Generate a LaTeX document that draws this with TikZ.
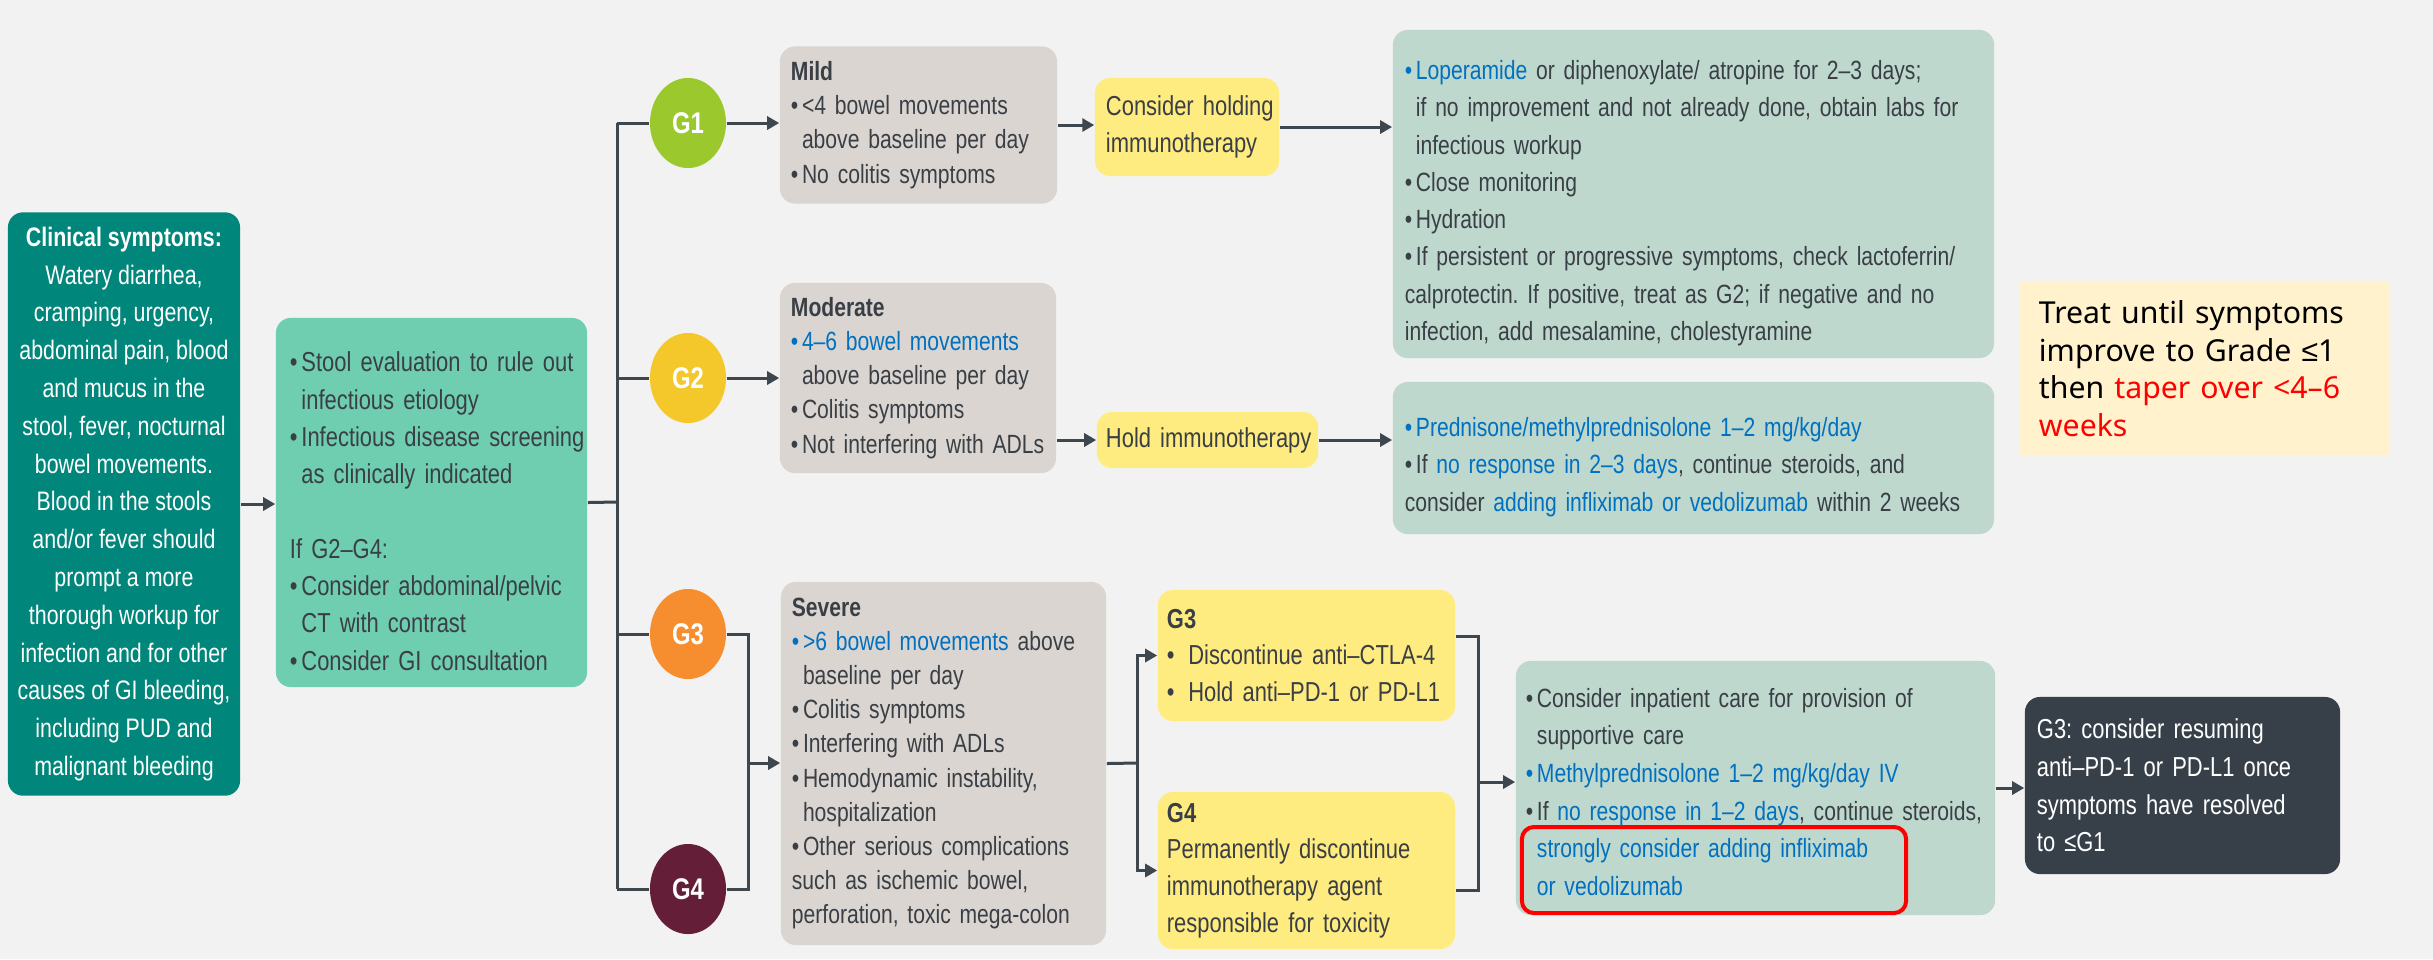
\documentclass[tikz,border=0pt]{standalone}
\usepackage{fontspec}
\setmainfont{Liberation Sans}[FakeStretch=0.8]
\newfontfamily\notefont{Noto Sans}
\newfontfamily\lefont{Liberation Sans}
\usetikzlibrary{shapes.geometric,arrows.meta}

\definecolor{fond}{RGB}{242,242,242}
\definecolor{teal1}{RGB}{0,134,122}
\definecolor{vert1}{RGB}{111,206,176}
\definecolor{gris1}{RGB}{218,213,208}
\definecolor{jaune1}{RGB}{255,236,128}
\definecolor{vert2}{RGB}{190,216,205}
\definecolor{creme}{RGB}{255,242,204}
\definecolor{sombre}{RGB}{55,64,73}
\definecolor{texte}{RGB}{58,63,70}
\definecolor{bleu}{RGB}{0,112,192}
\definecolor{trait}{RGB}{62,70,78}
\definecolor{gA}{RGB}{155,201,45}
\definecolor{gB}{RGB}{244,199,43}
\definecolor{gC}{RGB}{246,142,47}
\definecolor{gD}{RGB}{101,30,56}

% bullet with hanging indent, one line per \mbox
\newcommand{\puce}[2][texte]{\par\hangindent=0.42em\hangafter=1\noindent\makebox[0.42em][l]{\textcolor{#1}{\textbullet}}#2}
\newcommand{\hl}[1]{\textcolor{bleu}{#1}}

\tikzset{
  base/.style={rounded corners=0.15cm,inner ysep=0pt,inner xsep=0.11cm,
    align=left,text=texte,font=\fontsize{7.8}{10.6}\selectfont\frenchspacing},
  grisbox/.style={base,fill=gris1,font=\fontsize{7.5}{9.7}\selectfont\frenchspacing},
  jaunebox/.style={base,fill=jaune1,font=\fontsize{7.8}{10.4}\selectfont\frenchspacing},
  vertbox/.style={base,fill=vert2,font=\fontsize{7.5}{10.6}\selectfont\frenchspacing},
  gcirc/.style={ellipse,minimum width=0.76cm,minimum height=0.9cm,inner sep=0pt,
    text=white,font=\fontsize{8.5}{10}\selectfont\bfseries},
  ln/.style={draw=trait,line width=0.03cm},
  arr/.style={ln,-{Triangle[length=0.12cm,width=0.13cm]}}
}

\begin{document}
\begin{tikzpicture}[x=0.01cm,y=-0.01cm]

\useasboundingbox (0,0) rectangle (2433,959);
\fill[fond] (0,0) rectangle (2433,959);

% Symptoms
\node[base,fill=teal1,text=white,align=center,minimum width=2.32cm,minimum height=5.83cm,inner xsep=0.03cm,font=\fontsize{7.6}{10.75}\selectfont]
(clin)
at (124,504)
{\textbf{Clinical symptoms:}\\ Watery diarrhea,\\ cramping, urgency,\\ abdominal pain, blood\\ and mucus in the\\ stool, fever, nocturnal\\ bowel movements.\\ Blood in the stools\\ and/or fever should\\ prompt a more\\ thorough workup for\\ infection and for other\\ causes of GI bleeding,\\ including PUD and\\ malignant bleeding};

\node[base,fill=vert1,text width=2.83cm,inner xsep=0.14cm,minimum height=3.69cm]
(stool)
at (431.5,502.5)
{\puce{\mbox{Stool evaluation to rule out}\newline\mbox{infectious etiology}}
\puce{\mbox{Infectious disease screening}\newline\mbox{as clinically indicated}}
\par\vspace{10.6pt}\noindent If G2–G4:
\puce{\mbox{Consider abdominal/pelvic}\newline\mbox{CT with contrast}}
\puce{\mbox{Consider GI consultation}}};

% Grades
\node[gcirc,fill=gA]
(g1)
at (688,123)
{G1};

\node[gcirc,fill=gB]
(g2)
at (688,378)
{G2};

\node[gcirc,fill=gC]
(g3)
at (688,634)
{G3};

\node[gcirc,fill=gD]
(g4)
at (688,889)
{G4};

% Severity
\node[grisbox,text width=2.55cm,minimum height=1.57cm]
(mild)
at (918.5,125)
{\textbf{Mild}
\puce{\mbox{<4 bowel movements}\newline\mbox{above baseline per day}}
\puce{\mbox{No colitis symptoms}}};

\node[grisbox,text width=2.54cm,minimum height=1.9cm]
(mod)
at (918,378)
{\textbf{Moderate}
\puce[bleu]{\mbox{\hl{4–6 bowel movements}}\newline\mbox{above baseline per day}}
\puce{\mbox{Colitis symptoms}}
\puce{\mbox{Not interfering with ADLs}}};

\node[grisbox,text width=3.03cm,minimum height=3.63cm]
(sev)
at (943.5,763.5)
{\textbf{Severe}
\puce[bleu]{\mbox{\hl{>6 bowel movements} above}\newline\mbox{baseline per day}}
\puce{\mbox{Colitis symptoms}}
\puce{\mbox{Interfering with ADLs}}
\puce{\mbox{Hemodynamic instability,}\newline\mbox{hospitalization}}
\puce{\mbox{Other serious complications}\newline\mbox{such as ischemic bowel,}\newline\mbox{perforation, toxic mega-colon}}};

% Immunotherapy
\node[jaunebox,text width=1.62cm,minimum height=0.98cm]
(holdc)
at (1187,127)
{\mbox{Consider holding}\newline\mbox{immunotherapy}};

\node[jaunebox,text width=2.03cm,inner xsep=0.09cm,minimum height=0.56cm]
(hold)
at (1207.5,440)
{\mbox{Hold immunotherapy}};

\node[jaunebox,text width=2.79cm,inner xsep=0.09cm,minimum height=1.31cm]
(g3box)
at (1306.5,655.5)
{\textbf{G3}\par\noindent\textbullet\enspace Discontinue anti–CTLA-4\par\noindent\textbullet\enspace Hold anti–PD-1 or PD-L1};

\node[jaunebox,text width=2.79cm,inner xsep=0.09cm,minimum height=1.57cm]
(g4box)
at (1306.5,870.5)
{\textbf{G4}\par\noindent\mbox{Permanently discontinue}\newline\mbox{immunotherapy agent}\newline\mbox{responsible for toxicity}};

% Treatment
\node[vertbox,text width=5.77cm,inner xsep=0.12cm,minimum height=3.28cm]
(lop)
at (1693.5,194)
{\puce[bleu]{\mbox{\hl{Loperamide} or diphenoxylate/ atropine for 2–3 days;}\newline\mbox{if no improvement and not already done, obtain labs for}\newline\mbox{infectious workup}}
\puce{\mbox{Close monitoring}}
\puce{\mbox{Hydration}}
\puce{\mbox{If persistent or progressive symptoms, check lactoferrin/}\newline\mbox{calprotectin. If positive, treat as G2; if negative and no}\newline\mbox{infection, add mesalamine, cholestyramine}}};

\node[vertbox,text width=5.77cm,inner xsep=0.12cm,minimum height=1.52cm]
(pred)
at (1693.5,458)
{\puce[bleu]{\mbox{\hl{Prednisone/methylprednisolone 1–2 mg/kg/day}}}
\puce{\mbox{If \hl{no response in 2–3 days}, continue steroids, and}\newline\mbox{consider \hl{adding infliximab or vedolizumab} within 2 weeks}}};

\node[vertbox,text width=4.59cm,inner xsep=0.1cm,minimum height=2.54cm,font=\fontsize{7.5}{10.7}\selectfont\frenchspacing]
(inp)
at (1755.5,788)
{\puce{\mbox{Consider inpatient care for provision of}\newline\mbox{supportive care}}
\puce[bleu]{\mbox{\hl{Methylprednisolone 1–2 mg/kg/day IV}}}
\puce{\mbox{If \hl{no response in 1–2 days}, continue steroids,}\newline\mbox{\hl{strongly consider adding infliximab}}\newline\mbox{\hl{or vedolizumab}}}
\par\vspace{0.11cm}};

\node[draw=red,line width=0.04cm,rounded corners=0.12cm,minimum width=3.84cm,minimum height=0.86cm,inner sep=0pt]
(frame)
at (1714,870)
{};

\node[base,fill=sombre,text=white,text width=2.91cm,inner xsep=0.12cm,minimum height=1.77cm,font=\fontsize{7.8}{10.7}\selectfont\frenchspacing]
(dark)
at (2182.5,785.5)
{\mbox{G3: consider resuming}\newline\mbox{anti–PD-1 or PD-L1 once}\newline\mbox{symptoms have resolved}\newline\mbox{to ≤G1}};

% Note
\node[fill=creme,align=left,text=black,text width=3.32cm,inner xsep=0.19cm,inner ysep=0pt,minimum height=1.73cm,font=\notefont\fontsize{8.6}{10.7}\selectfont]
(note)
at (2205,368.5)
{\mbox{Treat until symptoms}\newline\mbox{improve to Grade {\lefont ≤}1}\newline\mbox{then \textcolor{red}{taper over <4–6}}\newline\textcolor{red}{weeks}};

% Connectors
\coordinate (bus) at (617,502);
\coordinate (jsev) at (748,763);
\coordinate (jtrt) at (1137,763);
\coordinate (jinp) at (1478,782);

\draw[arr] (clin.east) -- (clin.east -| stool.west);
\draw[ln] (stool.east) -- (bus);
\draw[ln] (bus |- g1.west) -- (bus |- g4.west);
\draw[ln] (bus |- g1.west) -- (g1.west);
\draw[ln] (bus |- g2.west) -- (g2.west);
\draw[ln] (bus |- g3.west) -- (g3.west);
\draw[ln] (bus |- g4.west) -- (g4.west);

\draw[arr] (g1.east) -- (g1.east -| mild.west);
\draw[arr] (g2.east) -- (g2.east -| mod.west);
\draw[ln] (g3.east) -| (jsev) |- (g4.east);
\draw[arr] (jsev) -- (jsev -| sev.west);

\draw[arr] (mild.east) -- (mild.east -| holdc.west);
\draw[arr] (holdc.east) -- (holdc.east -| lop.west);
\draw[arr] (hold.west -| mod.east) -- (hold.west);
\draw[arr] (hold.east) -- (hold.east -| pred.west);

\draw[ln] (sev.east) -- (jtrt);
\draw[arr] (jtrt) |- (g3box.west);
\draw[arr] (jtrt) |- (g4box.west);
\draw[ln] ([yshift=0.19cm]g3box.east) -| (jinp) |- ([yshift=-0.2cm]g4box.east);
\draw[arr] (jinp) -- (jinp -| inp.west);
\draw[arr] (inp.east) -- (inp.east -| dark.west);

\end{tikzpicture}
\end{document}
